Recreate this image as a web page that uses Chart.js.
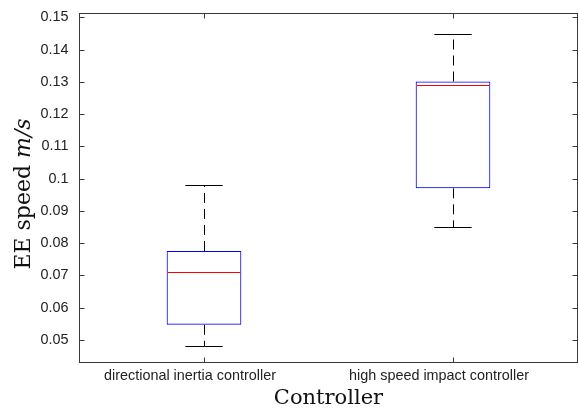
<!DOCTYPE html>
<html>
<head>
<meta charset="utf-8">
<script src="https://cdn.jsdelivr.net/npm/chart.js@4.4.1/dist/chart.umd.min.js"></script>
<style>
  html, body { margin: 0; padding: 0; background: #fff; }
  canvas { display: block; }
</style>
</head>
<body>
<canvas id="boxChart" width="579" height="409"></canvas>
<script>
// data
const categories = ['directional inertia controller', 'high speed impact controller'];
const lowerWhisker = [0.0481, 0.0849];
const q1 = [0.0547, 0.0970];
const median = [0.0710, 0.1289];
const q3 = [0.0776, 0.1301];
const upperWhisker = [0.0980, 0.1448];
const yTicks = [0.05, 0.06, 0.07, 0.08, 0.09, 0.1, 0.11, 0.12, 0.13, 0.14, 0.15];

const axisColor = '#3a3a3a';
const tickFont = { family: "'Liberation Sans', Arial, sans-serif", size: 14.4 };

// whiskers, caps and medians (drawn on top of the bars)
const boxExtras = {
    id: 'boxExtras',
    afterDatasetsDraw(chart) {
        const ctx = chart.ctx;
        const y = chart.scales.y;
        const bars = chart.getDatasetMeta(0).data;
        ctx.save();
        bars.forEach((bar, i) => {
            const cx = Math.round(bar.x) + 0.5;
            const half = bar.width / 2;
            // dashed whiskers
            ctx.strokeStyle = '#000';
            ctx.lineWidth = 1;
            ctx.setLineDash([10, 6]);
            ctx.beginPath();
            ctx.moveTo(cx, y.getPixelForValue(q3[i]));
            ctx.lineTo(cx, y.getPixelForValue(upperWhisker[i]));
            ctx.moveTo(cx, y.getPixelForValue(q1[i]));
            ctx.lineTo(cx, y.getPixelForValue(lowerWhisker[i]));
            ctx.stroke();
            // caps
            ctx.setLineDash([]);
            ctx.beginPath();
            [upperWhisker[i], lowerWhisker[i]].forEach(v => {
                const py = Math.round(y.getPixelForValue(v)) + 0.5;
                ctx.moveTo(bar.x - half / 2, py);
                ctx.lineTo(bar.x + half / 2, py);
            });
            ctx.stroke();
            // median
            ctx.strokeStyle = '#ff0000';
            ctx.lineWidth = 1.2;
            ctx.beginPath();
            const my = Math.round(y.getPixelForValue(median[i])) + 0.5;
            ctx.moveTo(bar.x - half + 1, my);
            ctx.lineTo(bar.x + half - 1, my);
            ctx.stroke();
        });
        ctx.restore();
    }
};

// box around the axes, inward ticks, y title with italic unit
const axesFrame = {
    id: 'axesFrame',
    afterDraw(chart) {
        const ctx = chart.ctx;
        const a = chart.chartArea;
        const x = chart.scales.x;
        const y = chart.scales.y;
        const tl = 5;
        ctx.save();
        ctx.strokeStyle = axisColor;
        ctx.lineWidth = 1;
        ctx.strokeRect(a.left, a.top, a.right - a.left, a.bottom - a.top);
        ctx.beginPath();
        y.ticks.forEach(t => {
            const py = Math.round(y.getPixelForValue(t.value)) + 0.5;
            ctx.moveTo(a.left, py);
            ctx.lineTo(a.left + tl, py);
            ctx.moveTo(a.right, py);
            ctx.lineTo(a.right - tl, py);
        });
        categories.forEach((c, i) => {
            const px = Math.round(x.getPixelForValue(i)) + 0.5;
            ctx.moveTo(px, a.bottom);
            ctx.lineTo(px, a.bottom - tl);
            ctx.moveTo(px, a.top);
            ctx.lineTo(px, a.top + tl);
        });
        ctx.stroke();

        // y axis title: "EE speed " + italic "m/s"
        const normal = "22px 'DejaVu Serif', serif";
        const italic = "italic 22px 'DejaVu Serif', serif";
        const part1 = 'EE speed ';
        const part2 = 'm/s';
        ctx.font = normal;
        const w1 = ctx.measureText(part1).width;
        ctx.font = italic;
        const w2 = ctx.measureText(part2).width;
        ctx.translate(24, (a.top + a.bottom) / 2 + 6);
        ctx.rotate(-Math.PI / 2);
        ctx.fillStyle = '#111';
        ctx.textBaseline = 'middle';
        ctx.textAlign = 'left';
        ctx.font = normal;
        ctx.fillText(part1, -(w1 + w2) / 2, 0);
        ctx.font = italic;
        ctx.fillText(part2, -(w1 + w2) / 2 + w1, 0);
        ctx.restore();
    }
};

new Chart(document.getElementById('boxChart'), {
    type: 'bar',
    data: {
        labels: categories,
        datasets: [{
            data: q1.map((v, i) => [v, q3[i]]),
            backgroundColor: 'rgba(255,255,255,0)',
            borderColor: '#0000ff',
            borderWidth: 1,
            borderSkipped: false,
            barPercentage: 0.3,
            categoryPercentage: 1.0
        }]
    },
    options: {
        responsive: false,
        animation: false,
        events: [],
        layout: { padding: { top: 13.5, right: 1.5, left: 0, bottom: 0 } },
        plugins: {
            legend: { display: false },
            tooltip: { enabled: false }
        },
        scales: {
            x: {
                type: 'category',
                offset: true,
                grid: { display: false, drawTicks: true, tickLength: 5 },
                border: { display: false },
                ticks: { color: '#222', font: tickFont, padding: 0, labelOffset: -14, maxRotation: 0, autoSkip: false },
                title: {
                    display: true,
                    text: 'Controller',
                    color: '#111',
                    font: { family: "'DejaVu Serif', serif", size: 21, lineHeight: 1.0 },
                    padding: { top: 0, bottom: 0 }
                },
                afterFit: scale => { scale.height = 46.5; }
            },
            y: {
                min: 0.04303,
                max: 0.15118,
                grid: { display: false, drawTicks: true, tickLength: 11 },
                border: { display: false },
                ticks: {
                    color: '#222',
                    font: tickFont,
                    padding: 0,
                    callback: v => String(Number(v.toFixed(2)))
                },
                afterBuildTicks: scale => { scale.ticks = yTicks.map(v => ({ value: v })); },
                afterFit: scale => { scale.width = 79.5; }
            }
        }
    },
    plugins: [boxExtras, axesFrame]
});
</script>
</body>
</html>
